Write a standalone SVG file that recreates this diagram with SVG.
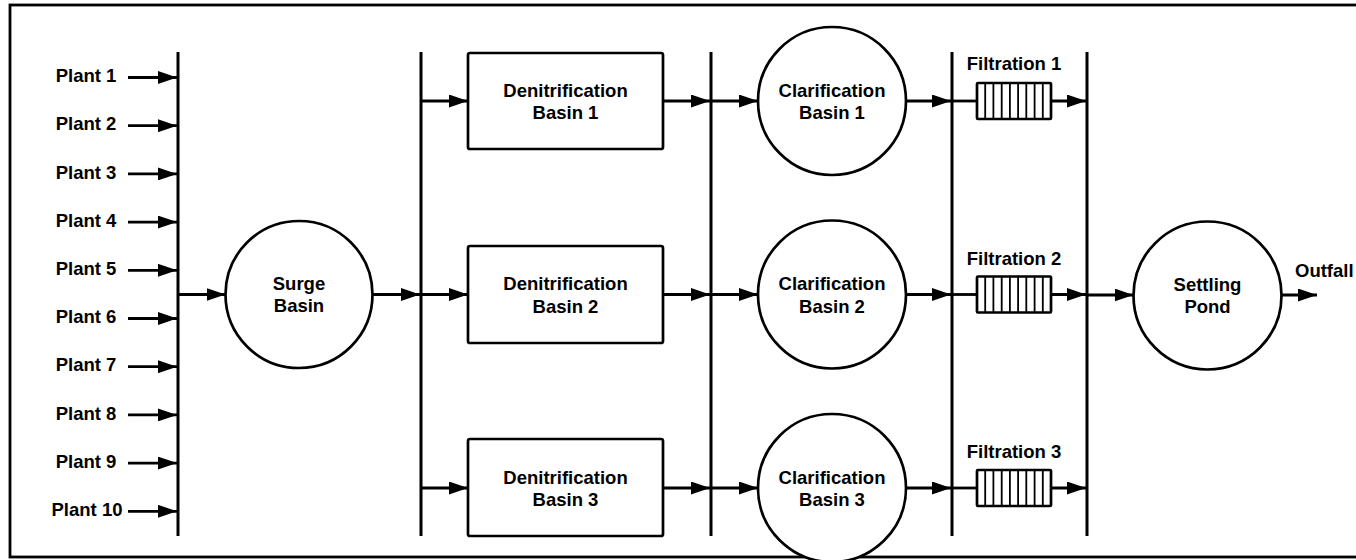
<svg xmlns="http://www.w3.org/2000/svg" width="1356" height="560" viewBox="0 0 1356 560">
  <defs>
    <style>
      text { font-family: "Liberation Sans", Arial, sans-serif; font-weight: bold; font-size: 18.5px; fill: #000; }
      .c { text-anchor: middle; }
      .frame { fill: none; stroke: #000; stroke-width: 2.8; }
      .bus { stroke: #000; stroke-width: 3; fill: none; }
      .node { fill: #fff; stroke: #000; stroke-width: 2.7; }
      .flow { stroke: #000; stroke-width: 2.8; fill: none; marker-end: url(#head); }
      .pipe { stroke: #000; stroke-width: 2.8; fill: none; }
      .grid { stroke: #000; stroke-width: 1.8; }
    </style>
    <marker id="head" markerUnits="userSpaceOnUse" markerWidth="19" markerHeight="13" refX="19" refY="6.5" orient="auto">
      <path d="M0,0 L19,6.5 L0,13 Z" fill="#000"/>
    </marker>
  </defs>

  <rect x="0" y="0" width="1356" height="560" fill="#fff"/>
  <rect class="frame" x="10" y="5" width="1360" height="552"/>

  <!-- plant inflow labels -->
  <g id="plants">
    <text class="c" x="86" y="82">Plant 1</text>
    <text class="c" x="86" y="130.4">Plant 2</text>
    <text class="c" x="86" y="178.6">Plant 3</text>
    <text class="c" x="86" y="226.8">Plant 4</text>
    <text class="c" x="86" y="275">Plant 5</text>
    <text class="c" x="86" y="323.2">Plant 6</text>
    <text class="c" x="86" y="371.4">Plant 7</text>
    <text class="c" x="86" y="419.6">Plant 8</text>
    <text class="c" x="86" y="467.8">Plant 9</text>
    <text class="c" x="87" y="516">Plant 10</text>
  </g>

  <!-- collection / distribution headers and flow lines -->
  <g id="connectors">
    <line class="bus" x1="178" y1="52" x2="178" y2="536"/>
    <line class="bus" x1="421" y1="52" x2="421" y2="536"/>
    <line class="bus" x1="711" y1="52" x2="711" y2="536"/>
    <line class="bus" x1="952" y1="52" x2="952" y2="536"/>
    <line class="bus" x1="1087" y1="52" x2="1087" y2="536"/>

    <line class="flow" x1="128" y1="77.5" x2="177" y2="77.5"/>
    <line class="flow" x1="128" y1="125.7" x2="177" y2="125.7"/>
    <line class="flow" x1="128" y1="173.9" x2="177" y2="173.9"/>
    <line class="flow" x1="128" y1="222.1" x2="177" y2="222.1"/>
    <line class="flow" x1="128" y1="270.3" x2="177" y2="270.3"/>
    <line class="flow" x1="128" y1="318.5" x2="177" y2="318.5"/>
    <line class="flow" x1="128" y1="366.7" x2="177" y2="366.7"/>
    <line class="flow" x1="128" y1="414.9" x2="177" y2="414.9"/>
    <line class="flow" x1="128" y1="463.1" x2="177" y2="463.1"/>
    <line class="flow" x1="128" y1="511.3" x2="177" y2="511.3"/>

    <line class="flow" x1="178" y1="294.5" x2="225.5" y2="294.5"/>
    <line class="flow" x1="372.5" y1="294.5" x2="420" y2="294.5"/>

    <line class="flow" x1="421" y1="101" x2="468" y2="101"/>
    <line class="flow" x1="421" y1="294.5" x2="468" y2="294.5"/>
    <line class="flow" x1="421" y1="488" x2="468" y2="488"/>

    <line class="flow" x1="663" y1="101" x2="710" y2="101"/>
    <line class="flow" x1="663" y1="294.5" x2="710" y2="294.5"/>
    <line class="flow" x1="663" y1="488" x2="710" y2="488"/>

    <line class="flow" x1="711" y1="101" x2="758" y2="101"/>
    <line class="flow" x1="711" y1="294.5" x2="758" y2="294.5"/>
    <line class="flow" x1="711" y1="488" x2="758" y2="488"/>

    <line class="flow" x1="906" y1="101" x2="951" y2="101"/>
    <line class="flow" x1="906" y1="294.5" x2="951" y2="294.5"/>
    <line class="flow" x1="906" y1="488" x2="951" y2="488"/>

    <line class="pipe" x1="952" y1="101" x2="977" y2="101"/>
    <line class="pipe" x1="952" y1="294.5" x2="977" y2="294.5"/>
    <line class="pipe" x1="952" y1="488" x2="977" y2="488"/>

    <line class="flow" x1="1051" y1="101" x2="1086" y2="101"/>
    <line class="flow" x1="1051" y1="294.5" x2="1086" y2="294.5"/>
    <line class="flow" x1="1051" y1="488" x2="1086" y2="488"/>

    <line class="flow" x1="1087" y1="295" x2="1133.5" y2="295"/>
    <line class="flow" x1="1281.5" y1="295" x2="1317" y2="295"/>
  </g>

  <g id="surge-basin">
    <circle class="node" cx="299" cy="294.5" r="73.5"/>
    <text class="c" x="299" y="289.5">Surge</text>
    <text class="c" x="299" y="312">Basin</text>
  </g>

  <g id="denitrification-1">
    <rect class="node" x="468" y="53" width="195" height="96" rx="2"/>
    <text class="c" x="565.5" y="96.5">Denitrification</text>
    <text class="c" x="565.5" y="119">Basin 1</text>
  </g>
  <g id="denitrification-2">
    <rect class="node" x="468" y="246" width="195" height="97" rx="2"/>
    <text class="c" x="565.5" y="290">Denitrification</text>
    <text class="c" x="565.5" y="312.5">Basin 2</text>
  </g>
  <g id="denitrification-3">
    <rect class="node" x="468" y="439" width="195" height="97" rx="2"/>
    <text class="c" x="565.5" y="483.5">Denitrification</text>
    <text class="c" x="565.5" y="506">Basin 3</text>
  </g>

  <g id="clarification-1">
    <circle class="node" cx="832" cy="101" r="74"/>
    <text class="c" x="832" y="96.5">Clarification</text>
    <text class="c" x="832" y="119">Basin 1</text>
  </g>
  <g id="clarification-2">
    <circle class="node" cx="832" cy="294.5" r="74"/>
    <text class="c" x="832" y="290">Clarification</text>
    <text class="c" x="832" y="312.5">Basin 2</text>
  </g>
  <g id="clarification-3">
    <circle class="node" cx="832" cy="488" r="74"/>
    <text class="c" x="832" y="483.5">Clarification</text>
    <text class="c" x="832" y="506">Basin 3</text>
  </g>

  <g id="filtration-1">
    <text class="c" x="1014" y="70">Filtration 1</text>
    <rect class="node" x="977" y="83" width="74" height="36" rx="1"/>
    <path class="grid" d="M985.2,83V119M993.4,83V119M1001.7,83V119M1009.9,83V119M1018.1,83V119M1026.3,83V119M1034.6,83V119M1042.8,83V119"/>
  </g>
  <g id="filtration-2">
    <text class="c" x="1014" y="264.5">Filtration 2</text>
    <rect class="node" x="977" y="276.5" width="74" height="36" rx="1"/>
    <path class="grid" d="M985.2,276.5V312.5M993.4,276.5V312.5M1001.7,276.5V312.5M1009.9,276.5V312.5M1018.1,276.5V312.5M1026.3,276.5V312.5M1034.6,276.5V312.5M1042.8,276.5V312.5"/>
  </g>
  <g id="filtration-3">
    <text class="c" x="1014" y="458">Filtration 3</text>
    <rect class="node" x="977" y="470" width="74" height="36" rx="1"/>
    <path class="grid" d="M985.2,470V506M993.4,470V506M1001.7,470V506M1009.9,470V506M1018.1,470V506M1026.3,470V506M1034.6,470V506M1042.8,470V506"/>
  </g>

  <g id="settling-pond">
    <circle class="node" cx="1207.5" cy="295.5" r="74"/>
    <text class="c" x="1207.5" y="290.5">Settling</text>
    <text class="c" x="1207.5" y="313">Pond</text>
  </g>

  <g id="outfall">
    <text x="1295" y="277">Outfall</text>
  </g>
</svg>
